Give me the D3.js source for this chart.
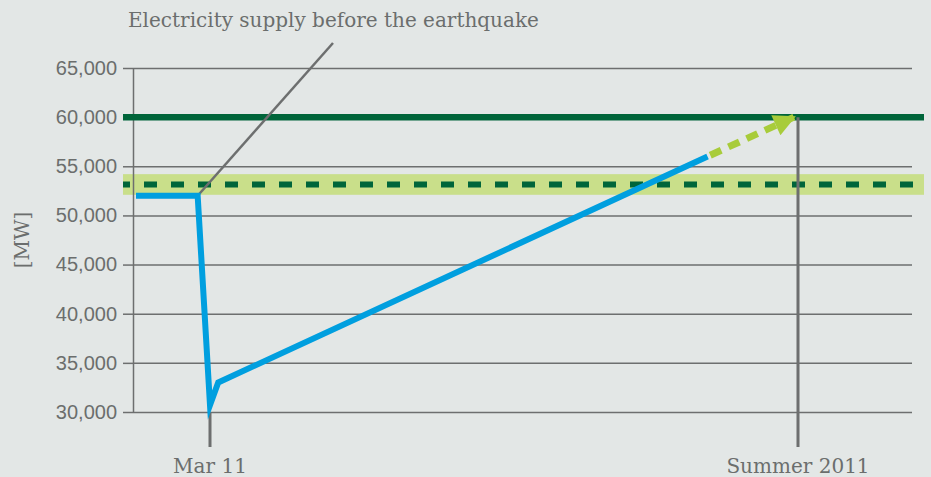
<!DOCTYPE html>
<html>
<head>
<meta charset="utf-8">
<script src="https://cdn.jsdelivr.net/npm/d3@7"></script>
<style>
  body { margin: 0; background: #e3e7e6; }
  svg { display: block; font-family: "DejaVu Serif", serif; }
  .axis text { fill: #6b6e6d; font-size: 20px; }
  .axis line, .axis path { stroke: #6d6f6f; stroke-width: 1.5; }
</style>
</head>
<body>
<svg id="chart"></svg>
<script>
// supply curve (blue), then forecast (dashed arrow)
const supplyDates = ['2011-02-21', '2011-03-08', '2011-03-11', '2011-03-13', '2011-07-10'];
const supplyValues = [52000, 52000, 30700, 33000, 56000];
const forecastDates = ['2011-07-10', '2011-07-31'];
const forecastValues = [56000, 60000];

const capacitySummer = 60000;     // solid dark green
const supplyBefore = 53150;       // dashed dark green
const supplyBand = [52100, 54200]; // light green band

const yTicks = [30000, 35000, 40000, 45000, 50000, 55000, 60000, 65000];
const xMarks = [
  { date: '2011-03-11', label: 'Mar 11', from: 30000 },
  { date: '2011-08-01', label: 'Summer 2011', from: 60000 },
];
const annotation = 'Electricity supply before the earthquake';

const config = {
  width: 931,
  height: 477,
  margin: { top: 68, right: 19, bottom: 65, left: 133 },
};

const parse = d3.timeParse('%Y-%m-%d');
const w = config.width - config.margin.left - config.margin.right;
const h = config.height - config.margin.top - config.margin.bottom;

const svg = d3.select('#chart')
  .attr('width', config.width)
  .attr('height', config.height);

const chart = svg.append('g')
  .attr('transform', `translate(${config.margin.left},${config.margin.top})`);

const yScale = d3.scaleLinear()
  .domain([30000, 65000])
  .range([h, 0]);

// Mar 11 -> 77px from axis, Aug 1 -> 665px
const xScale = d3.scaleTime()
  .domain([parse('2011-03-11'), parse('2011-08-01')])
  .range([77, 665]);

// gridlines (to the right of the axis)
const grid = chart.append('g')
  .attr('class', 'axis grid')
  .call(d3.axisLeft(yScale).tickValues(yTicks).tickSize(-w).tickFormat(''));
grid.select('.domain').remove();

// light band + dashed line for supply before the quake
chart.append('rect')
  .attr('x', -10)
  .attr('width', w + 22)
  .attr('y', yScale(supplyBand[1]))
  .attr('height', yScale(supplyBand[0]) - yScale(supplyBand[1]))
  .attr('fill', '#c9df8a');

chart.append('line')
  .attr('x1', -10)
  .attr('x2', w + 12)
  .attr('y1', yScale(supplyBefore))
  .attr('y2', yScale(supplyBefore))
  .attr('stroke', '#00653a')
  .attr('stroke-width', 6)
  .attr('stroke-dasharray', '13,14')
  .attr('stroke-dashoffset', 6);

// y axis with short outer ticks
const yAxis = d3.axisLeft(yScale)
  .tickValues(yTicks)
  .tickSize(10)
  .tickSizeOuter(0)
  .tickPadding(6)
  .tickFormat(d3.format(','));
chart.append('g')
  .attr('class', 'axis y-axis')
  .call(yAxis);

// capacity for summer
chart.append('line')
  .attr('x1', -10)
  .attr('x2', w + 12)
  .attr('y1', yScale(capacitySummer))
  .attr('y2', yScale(capacitySummer))
  .attr('stroke', '#00653a')
  .attr('stroke-width', 6.5);

// x marks (vertical lines + labels)
const marks = chart.selectAll('.x-mark')
  .data(xMarks)
  .join('g')
  .attr('class', 'axis x-mark')
  .attr('transform', (d) => `translate(${xScale(parse(d.date))},0)`);
marks.append('line')
  .attr('y1', (d) => yScale(d.from))
  .attr('y2', h + 35)
  .style('stroke-width', 3);
marks.append('text')
  .attr('y', h + 61)
  .attr('text-anchor', 'middle')
  .text((d) => d.label);

// annotation leader line
const knee = [xScale(parse(supplyDates[1])), yScale(supplyValues[1])];
chart.append('line')
  .attr('x1', knee[0])
  .attr('y1', knee[1])
  .attr('x2', 200)
  .attr('y2', -25)
  .attr('stroke', '#6d6f6f')
  .attr('stroke-width', 2.5);
chart.append('text')
  .attr('x', -5)
  .attr('y', -41)
  .style('fill', '#6b6e6d')
  .style('font-size', '20px')
  .text(annotation);

// y axis title
chart.append('text')
  .attr('transform', `translate(-104,${h / 2}) rotate(-90)`)
  .attr('text-anchor', 'middle')
  .style('fill', '#6b6e6d')
  .style('font-size', '20px')
  .text('[MW]');

const line = d3.line()
  .x((d) => xScale(d[0]))
  .y((d) => yScale(d[1]));

// forecast dashed arrow
svg.append('defs').append('marker')
  .attr('id', 'arrow')
  .attr('viewBox', '0 0 10 10')
  .attr('refX', 9)
  .attr('refY', 5)
  .attr('markerUnits', 'userSpaceOnUse')
  .attr('markerWidth', 24)
  .attr('markerHeight', 22)
  .attr('orient', 'auto')
  .append('path')
  .attr('d', 'M0,0 L10,5 L0,10 Z')
  .attr('fill', '#a8cc3a');

const fc = forecastDates.map((d, i) => [parse(d), forecastValues[i]]);
chart.append('path')
  .datum(fc)
  .attr('d', line)
  .attr('fill', 'none')
  .attr('stroke', '#a8cc3a')
  .attr('stroke-width', 7)
  .attr('stroke-dasharray', '12,8')
  .attr('stroke-dashoffset', -3);
// arrow head separately so the dash does not clip it
chart.append('path')
  .datum(fc)
  .attr('d', line)
  .attr('fill', 'none')
  .attr('stroke', 'none')
  .attr('marker-end', 'url(#arrow)');

// supply line
const sup = supplyDates.map((d, i) => [parse(d), supplyValues[i]]);
chart.append('path')
  .datum(sup)
  .attr('d', line)
  .attr('fill', 'none')
  .attr('stroke', '#009fdf')
  .attr('stroke-width', 6)
  .attr('stroke-linejoin', 'miter')
  .attr('stroke-miterlimit', 10);
</script>
</body>
</html>
